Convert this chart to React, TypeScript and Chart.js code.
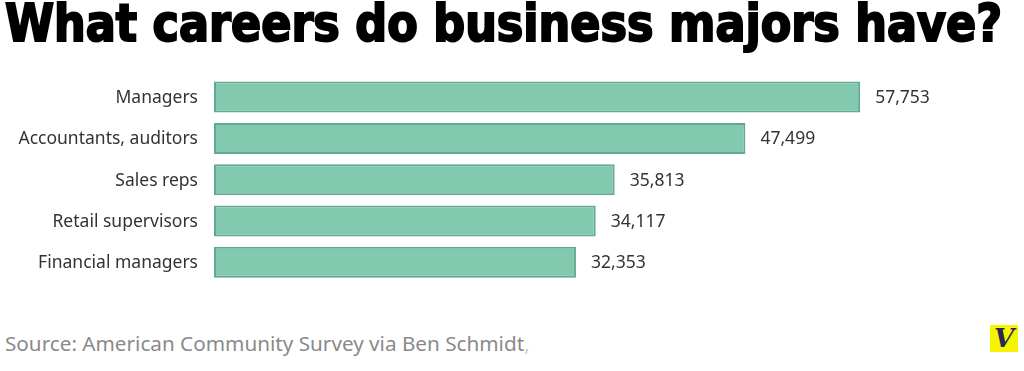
import React, { useEffect, useLayoutEffect, useRef } from "react";
import { Chart, registerables } from "chart.js";

Chart.register(...registerables);

const categories = ["Managers", "Accountants, auditors", "Sales reps", "Retail supervisors", "Financial managers"];
const values = [57753, 47499, 35813, 34117, 32353];
const valueLabels = ["57,753", "47,499", "35,813", "34,117", "32,353"];

const LABEL_FONT = "'Noto Sans', 'Open Sans', sans-serif";
const TITLE_WIDTH = 997;

const labelPlugin = {
  id: "barLabels",
  afterDatasetsDraw(chart: any) {
    const { ctx } = chart;
    const meta = chart.getDatasetMeta(0);
    const yScale = chart.scales.y;
    ctx.save();
    ctx.font = `17.5px ${LABEL_FONT}`;
    ctx.fillStyle = "#333333";
    ctx.textBaseline = "middle";
    meta.data.forEach((bar: any, i: number) => {
      ctx.textAlign = "left";
      ctx.fillText(valueLabels[i], bar.x + 15, bar.y + 1);
      ctx.textAlign = "right";
      ctx.fillText(String(chart.data.labels[i]), chart.chartArea.left - 16, yScale.getPixelForValue(i) + 1);
    });
    ctx.restore();
  },
};

export default function App() {
  const canvasRef = useRef<HTMLCanvasElement>(null);
  const titleRef = useRef<HTMLDivElement>(null);

  useLayoutEffect(() => {
    const el = titleRef.current;
    if (!el) return;
    el.style.transform = "none";
    const w = el.getBoundingClientRect().width;
    if (w > 0) el.style.transform = `scaleX(${TITLE_WIDTH / w})`;
  }, []);

  useEffect(() => {
    if (!canvasRef.current) return;
    const chart = new Chart(canvasRef.current, {
      type: "bar",
      data: {
        labels: categories,
        datasets: [
          {
            data: values,
            backgroundColor: "#82c9b0",
            borderColor: "#62a98d",
            borderWidth: 2,
            borderSkipped: false,
            barPercentage: 0.75,
            categoryPercentage: 1,
          },
        ],
      },
      options: {
        indexAxis: "y",
        animation: false,
        responsive: false,
        maintainAspectRatio: false,
        layout: { padding: { top: 16.4, bottom: 27, left: 214, right: 0 } },
        plugins: { legend: { display: false }, tooltip: { enabled: false }, title: { display: false } },
        scales: {
          x: { display: false, min: 0, max: 72400 },
          y: { display: false },
        },
      },
      plugins: [labelPlugin],
    });
    return () => chart.destroy();
  }, []);

  return (
    <div style={{ position: "fixed", left: 0, top: 0, width: 1024, height: 371, background: "#fff", overflow: "hidden" }}>
      <div
        ref={titleRef}
        style={{
          position: "absolute",
          left: 5,
          top: -6,
          fontFamily: "'DejaVu Sans Condensed', 'DejaVu Sans', sans-serif",
          fontStretch: "condensed",
          fontWeight: 700,
          fontSize: 51,
          color: "#000",
          whiteSpace: "nowrap",
          transformOrigin: "0 0",
          WebkitTextStroke: "2px #000",
          display: "inline-block",
        }}
      >
        What careers do business majors have?
      </div>
      <canvas ref={canvasRef} width={1024} height={250} style={{ position: "absolute", left: 0, top: 60, width: 1024, height: 250 }} />
      <div
        style={{
          position: "absolute",
          left: 5,
          top: 329,
          fontFamily: LABEL_FONT,
          fontSize: 20.7,
          color: "#8a8a8a",
          whiteSpace: "nowrap",
        }}
      >
        Source: American Community Survey via Ben Schmidt<span style={{ color: "#cfcfcf" }}>,</span>
      </div>
      <div
        style={{
          position: "absolute",
          left: 990,
          top: 325,
          width: 28,
          height: 27,
          background: "#f5f500",
          color: "#2a2850",
          fontFamily: "'DejaVu Serif', serif",
          fontStyle: "italic",
          fontWeight: 700,
          fontSize: 26,
          lineHeight: "27px",
          textAlign: "center",
        }}
      >
        V
      </div>
    </div>
  );
}
